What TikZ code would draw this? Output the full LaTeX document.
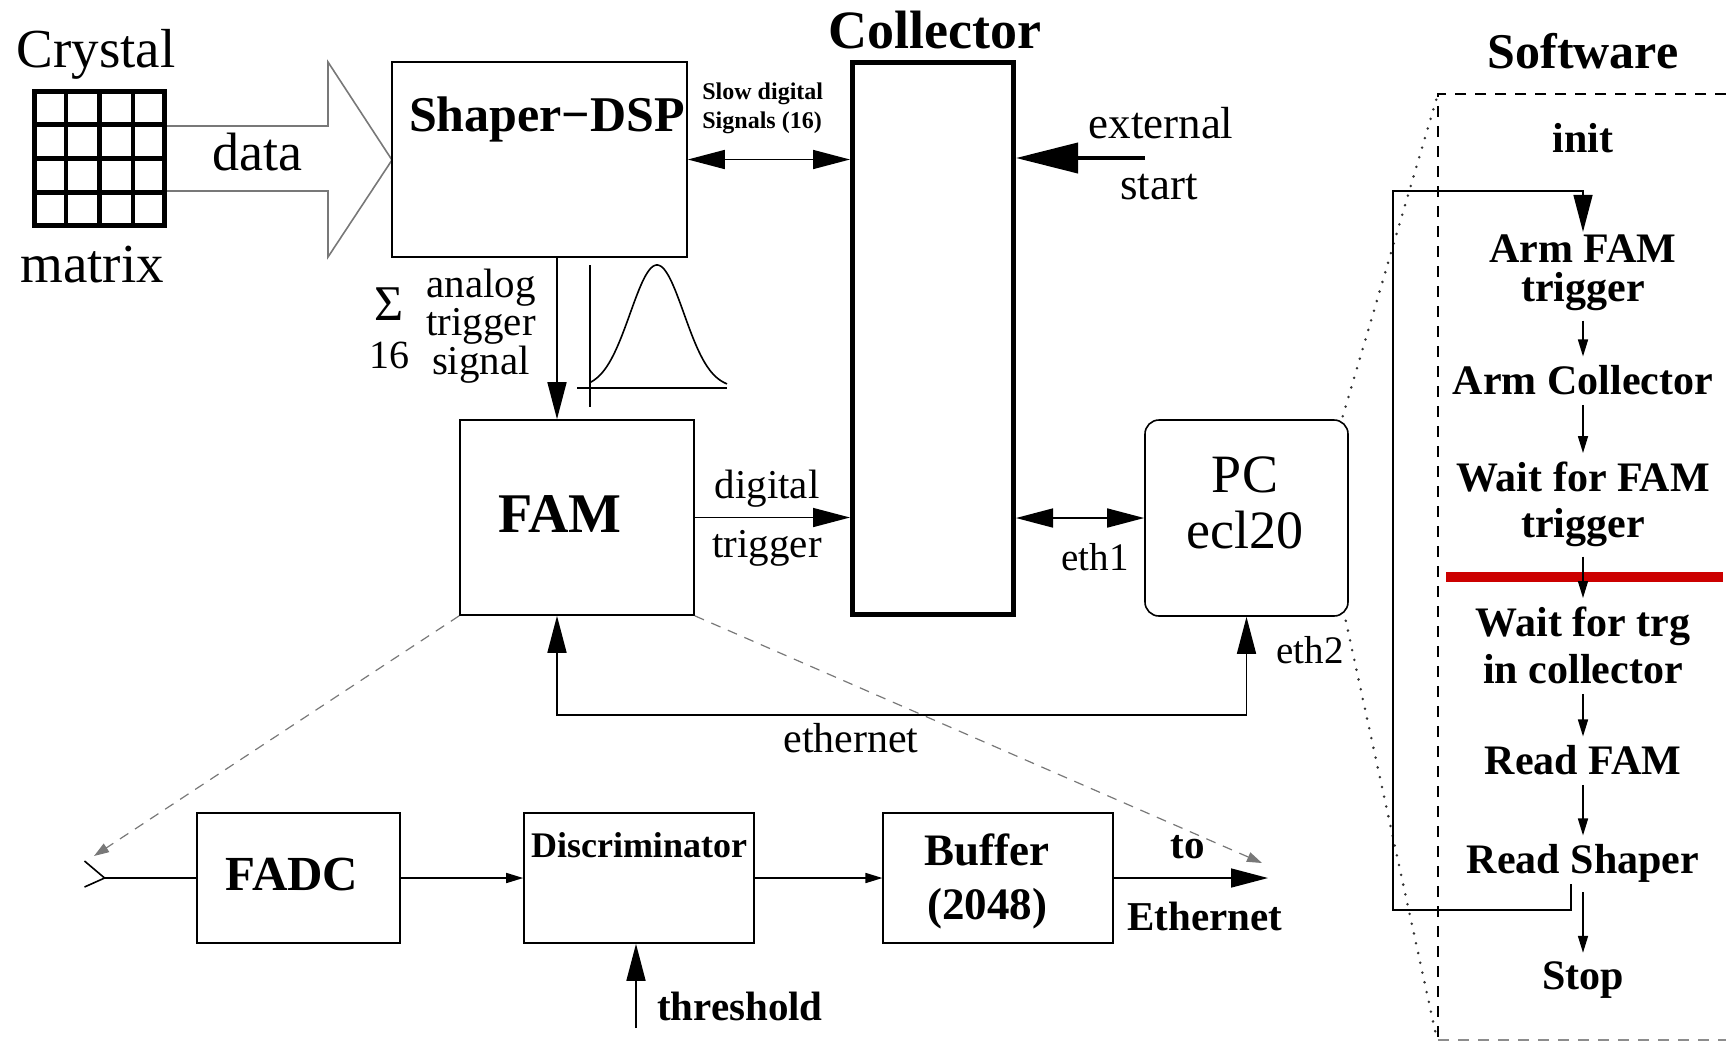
\documentclass[tikz,border=0pt]{standalone}
\usepackage{fontspec}
\setmainfont{Liberation Serif}
\usetikzlibrary{arrows.meta,calc}
\newcommand\fsz[1]{\fontsize{#1}{#1}\selectfont}
\definecolor{redbar}{RGB}{204,0,0}
\definecolor{grayline}{RGB}{120,120,120}
\tikzset{
  BigTri/.tip={Triangle[length=18.5pt,width=9.5pt]},
  SmTri/.tip={Triangle[length=8.5pt,width=5pt]},
  DashTri/.tip={Triangle[length=7.5pt,width=5pt]},
  box/.style={draw,line width=0.8pt,inner sep=0pt},
  lbl/.style={anchor=base,inner sep=0pt},
  blbl/.style={anchor=base,inner sep=0pt,font=\bfseries},
  barr/.style={line width=0.8pt,-BigTri},
  bdarr/.style={line width=0.8pt,BigTri-BigTri},
  sarr/.style={line width=0.8pt,-SmTri},
  sw/.style={anchor=base,inner sep=1pt,font=\bfseries\fsz{21pt}},
  swarr/.style={line width=0.8pt,-SmTri,shorten <=4pt,shorten >=3pt},
  zoomdash/.style={draw=grayline,line width=0.6pt,dash pattern=on 5pt off 4pt,-DashTri},
  zoomdot/.style={draw=black!80,line width=1.4pt,line cap=round,dash pattern=on 0pt off 5pt},
  swbox/.style={line width=0.8pt,dash pattern=on 5.5pt off 4.5pt}
}
\begin{document}
\begin{tikzpicture}[x=0.5pt,y=-0.5pt]
\useasboundingbox (0,0) rectangle (1726,1041);

% ---------- crystal matrix ----------
\node[lbl,font=\fsz{27.5pt}] (crystal) at (96,67) {Crystal};
\node[lbl,font=\fsz{27.5pt}] (matrix) at (92,282) {matrix};
\node[draw,line width=2.6pt,minimum width=64.9pt,minimum height=66.9pt,inner sep=0pt] (grid) at (99.5,158.5) {};
\foreach \gx in {66,99.5,133}{\draw[line width=2.2pt] (\gx,91) -- (\gx,226);}
\foreach \gy in {124.5,158.5,192.5}{\draw[line width=2.2pt] (34,\gy) -- (165,\gy);}

% data arrow (outline)
\draw[draw=grayline,line width=0.8pt,line join=miter]
  (167,126) -- (328,126) -- (328,62) -- (392,160) -- (328,257) -- (328,191) -- (167,191);
\node[lbl,font=\fsz{27pt}] (data) at (257,170) {data};

% ---------- Shaper-DSP ----------
\node[box,minimum width=147.5pt,minimum height=97.5pt] (shaper) at (539.5,159.5) {};
\node[blbl,font=\bfseries\fsz{25pt}] (shaperlbl) at (547,131) {Shaper−DSP};

% ---------- Collector ----------
\node[blbl,font=\bfseries\fsz{27pt}] (colllbl) at (934.5,48) {Collector};
\node[draw,line width=2.5pt,minimum width=80.5pt,minimum height=276pt,inner sep=0pt] (coll) at (933,338.5) {};

% slow digital signals
\draw[bdarr] (shaper.east) -- (shaper.east -| coll.west);
\node[anchor=base west,inner sep=0pt,font=\bfseries\fsz{12pt}] (slow1) at (702,99) {Slow digital};
\node[anchor=base west,inner sep=0pt,font=\bfseries\fsz{12pt}] (slow2) at (702,128) {Signals (16)};

% external start
\coordinate (ext) at (1145,158);
\draw[line width=2pt,-{Triangle[length=31pt,width=15pt]}] (ext) -- (ext -| coll.east);
\node[lbl,font=\fsz{22.5pt}] (extlbl) at (1161,138) {external};
\node[lbl,font=\fsz{22.5pt}] (startlbl) at (1159,199) {start};

% ---------- FAM ----------
\node[box,minimum width=117pt,minimum height=97.5pt] (fam) at (577,517.5) {};
\node[blbl,font=\bfseries\fsz{28pt}] (famlbl) at (560,532) {FAM};

% analog trigger
\coordinate (ax) at (557,0);
\draw[barr] (ax |- shaper.south) -- (ax |- fam.north);
\node[lbl,font=\fsz{25pt}] (sigma) at (389,320) {Σ};
\node[lbl,font=\fsz{20pt}] (sixteen) at (389,368) {16};
\node[lbl,font=\fsz{20.5pt}] (an1) at (481,297) {analog};
\node[lbl,font=\fsz{20.5pt}] (an2) at (481,335) {trigger};
\node[lbl,font=\fsz{20.5pt}] (an3) at (481,374) {signal};

% pulse sketch
\draw[line width=0.8pt] (590,265) -- (590,407);
\draw[line width=0.8pt] (577,388) -- (727,388);
\draw[line width=0.8pt] plot[domain=590:727,samples=90,smooth] (\x,{388-123*exp(-((\x-657)/38)^2)});

% digital trigger
\draw[barr] (fam.east) -- (fam.east -| coll.west);
\node[lbl,font=\fsz{20.5pt}] (dig1) at (767,498) {digital};
\node[lbl,font=\fsz{20.5pt}] (dig2) at (767,557) {trigger};

% ---------- PC ----------
\node[draw,line width=0.8pt,rounded corners=7pt,minimum width=101.5pt,minimum height=98pt,inner sep=0pt] (pc) at (1246.5,518) {};
\node[lbl,font=\fsz{27pt}] (pclbl1) at (1245,492) {PC};
\node[lbl,font=\fsz{27pt}] (pclbl2) at (1245,548) {ecl20};
\draw[bdarr] (pc.west -| coll.east) -- (pc.west);
\node[lbl,font=\fsz{19.5pt}] (eth1) at (1095,570) {eth1};
\node[lbl,font=\fsz{19.5pt}] (eth2) at (1310,663) {eth2};

% ethernet loop
\coordinate (ethc) at (557,715);
\draw[bdarr] (ethc |- fam.south) -- (ethc) -| (pc.south);
\node[lbl,font=\fsz{21pt}] (ethlbl) at (851,752) {ethernet};

% ---------- bottom chain ----------
\node[box,minimum width=101.5pt,minimum height=65pt] (fadc) at (298.5,878) {};
\node[blbl,font=\bfseries\fsz{24.5pt}] (fadclbl) at (292,890) {FADC};
\node[box,minimum width=115pt,minimum height=65pt] (disc) at (639,878) {};
\node[blbl,font=\bfseries\fsz{18pt}] (disclbl) at (639,857) {Discriminator};
\node[box,minimum width=114.75pt,minimum height=65pt] (buf) at (998,878) {};
\node[blbl,font=\bfseries\fsz{22.5pt}] (buflbl1) at (987,865) {Buffer};
\node[blbl,font=\bfseries\fsz{22.5pt}] (buflbl2) at (987,919) {(2048)};

\coordinate (fork) at (104.6,878);
\draw[line width=0.8pt] (84.5,861) -- (fork) -- (84.5,887);
\draw[line width=0.8pt] (fork) -- (fadc.west);
\draw[sarr] (fadc.east) -- (disc.west);
\draw[sarr] (disc.east) -- (buf.west);
\coordinate (toeth) at (1268,878);
\draw[barr] (buf.east) -- (toeth);
\node[blbl,font=\bfseries\fsz{20.5pt}] (tolbl) at (1188,858) {to};
\node[blbl,font=\bfseries\fsz{20.5pt}] (ethlbl2) at (1205,930) {Ethernet};
\coordinate (thr) at (636,1028);
\draw[barr] (thr) -- (thr |- disc.south);
\node[blbl,font=\bfseries\fsz{20.5pt}] (thrlbl) at (740,1020) {threshold};

% zoom (dashed) lines from FAM
\coordinate (zl) at (94,856);
\coordinate (zr) at (1262,863);
\draw[zoomdash] (fam.south west) -- (zl);
\draw[zoomdash] (fam.south east) -- (zr);

% ---------- Software ----------
\node[blbl,font=\bfseries\fsz{25pt}] (soft) at (1583,68) {Software};
\draw[swbox] (1726,94) -- (1438,94) -- (1438,1040);
\draw[swbox,draw=black!45] (1438,1040) -- (1726,1040);
\draw[zoomdot] ([shift={(-3pt,1.5pt)}]pc.north east) -- (1437,97);
\draw[zoomdot] ([shift={(-1.5pt,-2pt)}]pc.south east) -- (1436,1035);

\draw[line width=5pt,draw=redbar] (1446,577) -- (1723,577);

\node[sw] (init) at (1583,152) {init};
\node[sw] (armfam1) at (1583,262) {Arm FAM};
\node[sw] (armfam2) at (1583,301) {trigger};
\node[sw] (armcoll) at (1583,394) {Arm Collector};
\node[sw] (waitfam1) at (1583,491) {Wait for FAM};
\node[sw] (waitfam2) at (1583,537) {trigger};
\node[sw] (waittrg1) at (1583,636) {Wait for trg};
\node[sw] (waittrg2) at (1583,683) {in collector};
\node[sw] (readfam) at (1583,774) {Read FAM};
\node[sw] (readsh) at (1583,873) {Read Shaper};
\node[sw] (stop) at (1583,989) {Stop};

\draw[swarr] (armfam2.south) -- (armcoll.north);
\draw[swarr] (armcoll.south) -- (waitfam1.north);
\draw[swarr] (waitfam2.south) -- (waittrg1.north);
\draw[swarr] (waittrg2.south) -- (readfam.north);
\draw[swarr] (readfam.south) -- (readsh.north);
\draw[swarr] (readsh.south) -- (stop.north);

\coordinate (lpx) at (1571,0);
\coordinate (lpb) at (1393,910);
\coordinate (lpt) at (1393,191);
\draw[line width=0.8pt,-BigTri] (lpx |- readsh.south) -- (lpx |- lpb) -- (lpb) -- (lpt) -- (armfam1.north |- lpt) -- (armfam1.north);
\end{tikzpicture}
\end{document}
